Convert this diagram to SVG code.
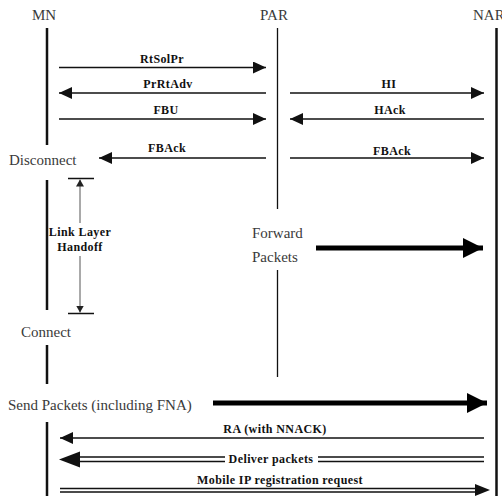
<svg xmlns="http://www.w3.org/2000/svg" width="502" height="496" viewBox="0 0 502 496">
<style>
.hdr{font-family:"Liberation Serif","Times New Roman",serif;font-size:15px;fill:#3a3a3a;}
.lbl{font-family:"Liberation Serif","Times New Roman",serif;font-size:12px;font-weight:bold;fill:#111;letter-spacing:0.4px;text-anchor:middle;}
.life{stroke:#111;fill:none;}
.msg{stroke:#111;stroke-width:1.6;fill:none;}
.dbl{stroke:#111;stroke-width:1.4;fill:none;}
.big{stroke:#000;stroke-width:5;fill:none;}
.head{fill:#111;}
</style>
<defs>
<marker id="ah" markerUnits="userSpaceOnUse" viewBox="0 0 13 12" refX="13" refY="6" markerWidth="13" markerHeight="12" orient="auto-start-reverse">
<path d="M0,0 L13,6 L0,12 z" fill="#111"/>
</marker>
<marker id="bh" markerUnits="userSpaceOnUse" viewBox="0 0 20 20" refX="20" refY="10" markerWidth="20" markerHeight="20" orient="auto">
<path d="M0,0 L20,10 L0,20 z" fill="#000"/>
</marker>
<marker id="sh" markerUnits="userSpaceOnUse" viewBox="0 0 7 8" refX="7" refY="4" markerWidth="7" markerHeight="8" orient="auto-start-reverse">
<path d="M0,0 L7,4 L0,8 z" fill="#222"/>
</marker>
</defs>

<g id="MN">
<text class="hdr" x="44" y="20" text-anchor="middle">MN</text>
<path class="life" stroke-width="2.5" d="M47,28 V145 M47,180 V310 M47,345 V384 M47,422 V496"/>
</g>
<g id="PAR">
<text class="hdr" x="274" y="20" text-anchor="middle">PAR</text>
<path class="life" stroke-width="1.3" d="M277.5,28 V209 M277.5,270 V377"/>
</g>
<g id="NAR">
<text class="hdr" x="473" y="20">NAR</text>
<path class="life" stroke-width="2.5" d="M496.5,28 V496"/>
</g>

<g id="states">
<text class="hdr" x="9" y="165">Disconnect</text>
<text class="hdr" x="21" y="337">Connect</text>
<text class="hdr" x="252" y="238">Forward</text>
<text class="hdr" x="252" y="262">Packets</text>
<text class="hdr" x="8" y="410">Send Packets (including FNA)</text>
</g>

<g id="handoff">
<path d="M68,178.5 H94 M68,313.5 H94" stroke="#111" stroke-width="1.5"/>
<line x1="80" y1="179.5" x2="80" y2="223" stroke="#555" stroke-width="1" marker-start="url(#sh)"/>
<line x1="80" y1="256" x2="80" y2="312.5" stroke="#555" stroke-width="1" marker-end="url(#sh)"/>
<text class="lbl" x="80" y="236">Link Layer</text>
<text class="lbl" x="80" y="251">Handoff</text>
</g>

<g id="connectors">
<line class="msg" x1="59" y1="67.5" x2="266" y2="67.5" marker-end="url(#ah)"/>
<text class="lbl" x="162" y="63">RtSolPr</text>
<line class="msg" x1="266" y1="93" x2="59" y2="93" marker-end="url(#ah)"/>
<text class="lbl" x="168" y="88">PrRtAdv</text>
<line class="msg" x1="290" y1="93" x2="484" y2="93" marker-end="url(#ah)"/>
<text class="lbl" x="389" y="88">HI</text>
<line class="msg" x1="59" y1="119" x2="266" y2="119" marker-end="url(#ah)"/>
<text class="lbl" x="166" y="114">FBU</text>
<line class="msg" x1="484" y1="119" x2="290" y2="119" marker-end="url(#ah)"/>
<text class="lbl" x="390" y="114">HAck</text>
<line class="msg" x1="266" y1="158" x2="99" y2="158" marker-end="url(#ah)"/>
<text class="lbl" x="167" y="152">FBAck</text>
<line class="msg" x1="290" y1="158" x2="484" y2="158" marker-end="url(#ah)"/>
<text class="lbl" x="392" y="155">FBAck</text>

<line class="big" x1="316" y1="248" x2="483" y2="248" marker-end="url(#bh)"/>
<line class="big" x1="213" y1="403" x2="487" y2="403" marker-end="url(#bh)"/>

<line class="msg" x1="484" y1="438" x2="60" y2="438" marker-end="url(#ah)"/>
<text class="lbl" x="275" y="433">RA (with NNACK)</text>

<path class="dbl" d="M80,457 H225 M80,461.5 H225 M318,457 H484 M318,461.5 H484"/>
<path class="head" d="M59,459.5 L80,451.5 L80,467.5 z"/>
<text class="lbl" x="271" y="463">Deliver packets</text>

<path class="dbl" stroke-width="1.2" d="M60,488.5 H478 M60,492 H478"/>
<path class="head" d="M490,490 L475,484 L475,496 z"/>
<text class="lbl" x="280" y="484">Mobile IP registration request</text>
</g>
</svg>
